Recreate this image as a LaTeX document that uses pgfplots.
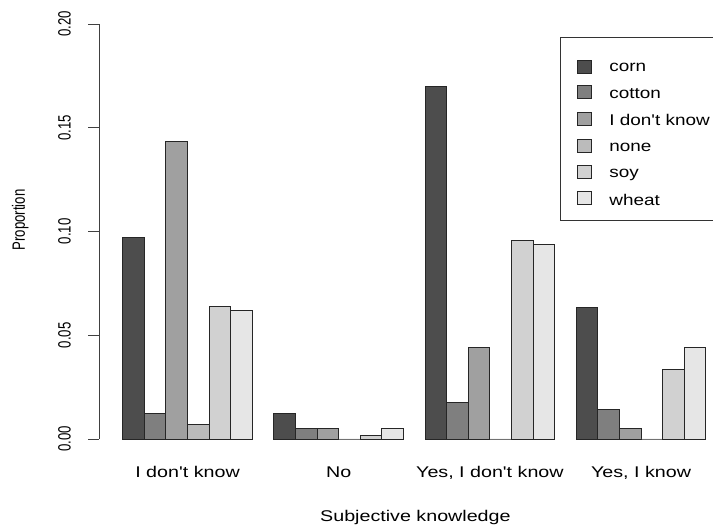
\documentclass[border=0pt]{standalone}
\usepackage{pgfplots}
\pgfplotsset{compat=1.18}
\usepackage{pgfplotstable}
\usepackage{fontspec}
\setmainfont{Liberation Sans}
\newfontfamily\hfont[FakeStretch=1.27]{Liberation Sans}
\newfontfamily\lfont[FakeStretch=1.22]{Liberation Sans}
\newcommand{\rot}[1]{\scalebox{1}[1.35]{#1}}
\newcommand{\fs}{\fontsize{13.2bp}{16bp}\selectfont}
\newcommand{\hs}{\fontsize{15.5bp}{18bp}\selectfont}

% grey ramp for the six crops
\definecolor{g1}{HTML}{4D4D4D}
\definecolor{g2}{HTML}{7F7F7F}
\definecolor{g3}{HTML}{A0A0A0}
\definecolor{g4}{HTML}{BBBBBB}
\definecolor{g5}{HTML}{D1D1D1}
\definecolor{g6}{HTML}{E6E6E6}

% x = bar centre, y = proportion
\pgfplotstableread{
x y
1.5 0.0972
8.5 0.0122
15.5 0.1701
22.5 0.0635
}\corn
\pgfplotstableread{
x y
2.5 0.0124
9.5 0.0052
16.5 0.0175
23.5 0.0140
}\cotton
\pgfplotstableread{
x y
3.5 0.1436
10.5 0.0052
17.5 0.0442
24.5 0.0052
}\idk
\pgfplotstableread{
x y
4.5 0.0071
11.5 0.0000
18.5 0.0000
25.5 0.0000
}\none
\pgfplotstableread{
x y
5.5 0.0638
12.5 0.0019
19.5 0.0956
26.5 0.0336
}\soy
\pgfplotstableread{
x y
6.5 0.0618
13.5 0.0052
20.5 0.0938
27.5 0.0440
}\wheat

\pgfplotsset{
  crop/.style={ybar, bar width=1, bar shift=0pt, draw=black!85, line width=0.9bp, fill=#1,
    legend image code/.code={\draw[##1] (0bp,-4.5bp) rectangle (14bp,8.5bp);}},
}

\begin{document}
\begin{tikzpicture}[x=1bp,y=1bp]
\begin{axis}[
  at={(99.4bp,91bp)}, anchor=south west,
  scale only axis, width=613.6bp, height=415bp,
  xmin=-0.08, xmax=28.33, ymin=0, ymax=0.2,
  clip=false,
  axis line style={-, black!75, line width=0.9bp},
  axis y line*=left, axis x line*=bottom,
  x axis line style={draw=none},
  xtick={4,11,18,25},
  xticklabels={I don't know,No,{Yes, I don't know},{Yes, I know}},
  xtick style={draw=none},
  xticklabel style={font=\hfont\hs, anchor=north, yshift=-13bp},
  ytick={0,0.05,0.1,0.15,0.2},
  yticklabels={\rot{0.00},\rot{0.05},\rot{0.10},\rot{0.15},\rot{0.20}},
  ytick style={black!75, line width=0.9bp},
  tick align=outside, major tick length=11bp,
  yticklabel style={font=\fs, xshift=-14bp, rotate=90, anchor=south},
  xlabel={Subjective knowledge},
  xlabel style={font=\hfont\hs, at={(axis description cs:0.515,-0.188)}, anchor=center},
  ylabel={\rot{Proportion}},
  ylabel style={font=\fs, at={(axis description cs:-0.129,0.5277)}, anchor=center},
  legend style={at={(axis description cs:0.7779,0.9149)}, anchor=north west,
    draw=none, fill=none, inner sep=0pt, row sep=12bp,
    nodes={inner sep=0pt}, font=\lfont\hs,
    /tikz/every odd column/.append style={column sep=17.6bp}},
  legend cell align=left,
]
\draw[black!80, line width=0.9bp, fill=white]
  (axis description cs:0.7506,0.968) rectangle (axis description cs:1.1,0.526);
\addplot[crop=g1] table {\corn};
\addplot[crop=g2] table {\cotton};
\addplot[crop=g3] table {\idk};
\addplot[crop=g4] table {\none};
\addplot[crop=g5] table {\soy};
\addplot[crop=g6] table {\wheat};
\legend{corn,cotton,I don't know,none,soy,wheat}
\end{axis}
\pgfresetboundingbox
\useasboundingbox (0,0) rectangle (713,530);
\end{tikzpicture}
\end{document}
